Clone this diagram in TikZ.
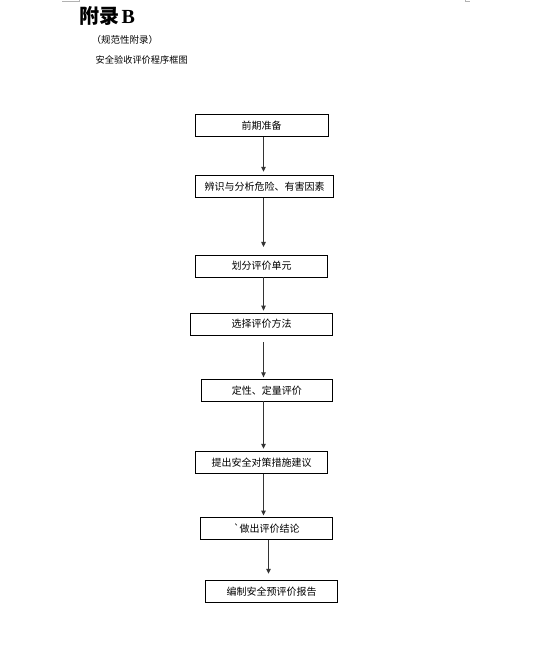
\documentclass[tikz,border=0pt]{standalone}
\usepackage{fontspec}
\setmainfont{Liberation Serif}
\newfontfamily\cjk{Noto Sans CJK SC}
\usepackage{tikz}
\usetikzlibrary{arrows.meta}

\begin{document}
\begin{tikzpicture}[x=1pt, y=-1pt, main node/.style={draw, line width=0.9pt, minimum height=21.6pt, inner sep=0pt, font=\cjk\fontsize{10}{12}\selectfont}, flow/.style={-{Triangle[length=5pt, width=4.5pt]}, line width=0.9pt, black!80}]

	\useasboundingbox (0,0) rectangle (543,648);

	% page corner marks
	\draw[gray!60, line width=0.6pt] (62,1.5) -- (79,1.5) -- (79,0);
	\draw[gray!60, line width=0.6pt] (465,0) -- (465,1.5) -- (470,1.5);

	% heading
	\node[anchor=base west, inner sep=0pt, font=\fontsize{20}{24}\selectfont\bfseries] (title) at (79,23.3) {{\cjk 附录}\hspace{2.5pt}B};
	\node[anchor=base west, inner sep=0pt, font=\cjk\fontsize{9.5}{11}\selectfont] (note) at (91.5,43) {（规范性附录）};
	\node[anchor=base west, inner sep=0pt, font=\cjk\fontsize{9.2}{11}\selectfont] (caption) at (95.5,63) {安全验收评价程序框图};

	\node[main node, minimum width=133pt] (1) at (261.5,125.5) {前期准备};
	\node[main node, minimum width=137.6pt] (2) at (264.5,186.5) {辨识与分析危险、有害因素};
	\node[main node, minimum width=131.6pt] (3) at (261.5,266.2) {划分评价单元};
	\node[main node, minimum width=142pt] (4) at (261.7,324.2) {选择评价方法};
	\node[main node, minimum width=131.7pt] (5) at (266.8,390.2) {定性、定量评价};
	\node[main node, minimum width=131.6pt] (6) at (261.5,462.5) {提出安全对策措施建议};
	\node[main node, minimum width=132pt] (7) at (266.7,528.5) {`做出评价结论};
	\node[main node, minimum width=131.6pt] (8) at (271.5,591.5) {编制安全预评价报告};

	% arrow columns
	\coordinate (col) at (263.5,0);
	\coordinate (col2) at (268.5,0);

	% draw flow from step to step
	\draw[flow, shorten >=3.5pt] (1.south -| col) -- (2.north -| col);
	\draw[flow, shorten >=8pt] (2.south -| col) -- (3.north -| col);
	\draw[flow, shorten >=2.3pt] (3.south -| col) -- (4.north -| col);
	\draw[flow, shorten <=6.7pt, shorten >=1.6pt] (4.south -| col) -- (5.north -| col);
	\draw[flow, shorten >=2.5pt] (5.south -| col) -- (6.north -| col);
	\draw[flow, shorten >=1.7pt] (6.south -| col) -- (7.north -| col);

	% draw last step
	\draw[flow, shorten >=6.5pt] (7.south -| col2) -- (8.north -| col2);

\end{tikzpicture}
\end{document}
